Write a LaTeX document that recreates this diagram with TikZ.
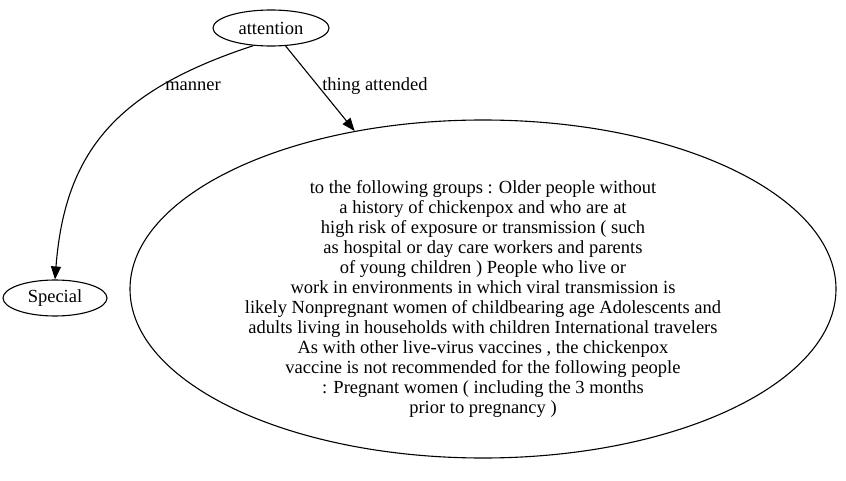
\documentclass[tikz,border=0pt]{standalone}
\usepackage{fontspec}
\setmainfont{Liberation Serif}
\usetikzlibrary{shapes.geometric,arrows.meta}
\begin{document}
\begin{tikzpicture}[x=1pt,y=-1pt,line width=1.1pt,
  ell/.style={draw,ellipse,inner sep=0pt,font=\fontsize{18.5}{20}\selectfont},
  txt/.style={inner sep=0pt,align=center,font=\fontsize{18.5}{20}\selectfont},
  lbl/.style={font=\fontsize{18.5}{20}\selectfont,inner sep=1pt},
  arr/.style={-{Triangle[length=13pt,width=10pt]}}]
\useasboundingbox (0,0) rectangle (846,481);
\node[ell,minimum width=116pt,minimum height=36pt] (att) at (271,28) {attention};
\node[ell,minimum width=104pt,minimum height=36pt] (sp) at (55,298) {Special};
\node[ell,minimum width=706pt,minimum height=338pt] (big) at (483,289) {};
\node[txt] (bigtxt) at (483,299) {to the following groups : Older people without\\
a history of chickenpox and who are at\\
high risk of exposure or transmission ( such\\
as hospital or day care workers and parents\\
of young children ) People who live or\\
work in environments in which viral transmission is\\
likely Nonpregnant women of childbearing age Adolescents and\\
adults living in households with children International travelers\\
As with other live-virus vaccines , the chickenpox\\
vaccine is not recommended for the following people\\
: Pregnant women ( including the 3 months\\
prior to pregnancy )};
\draw[arr] (att.225) .. controls (118,90) and (65,150) .. (sp.north);
\draw[arr] (att) -- (big);
\node[lbl] (m) at (193,86) {manner};
\node[lbl] (t) at (375,86) {thing attended};
\end{tikzpicture}
\end{document}
